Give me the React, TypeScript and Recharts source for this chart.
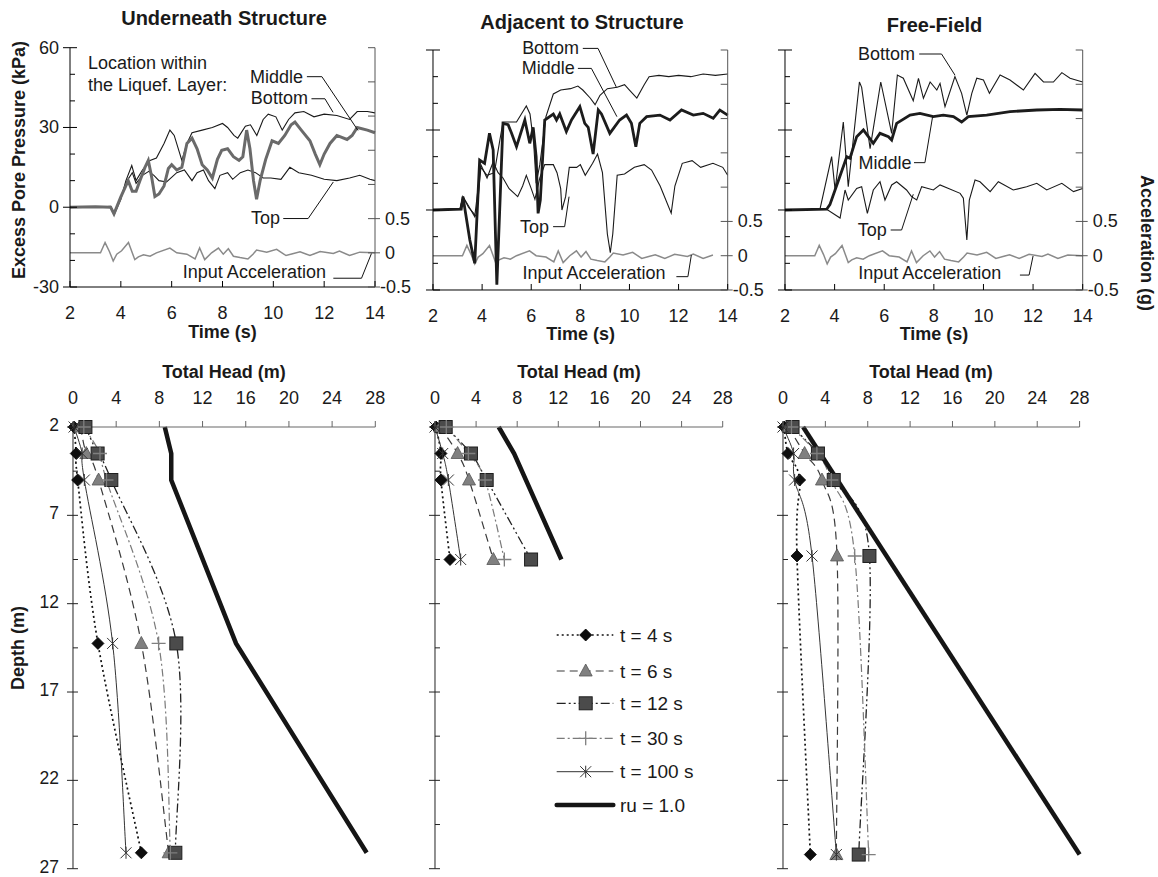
import React from 'react';
import { LineChart, Line, XAxis, YAxis, ReferenceLine, ReferenceDot } from 'recharts';

const FONT = "'Liberation Sans', Arial, Helvetica, sans-serif";
const INK = '#1a1a1a';

// ---------- Top row: excess pore pressure (kPa) vs time (s) ----------
const underBottom: number[][] = [[2,0],[2.5,0.3],[3,0],[3.6,0.3],[3.75,-2.5],[4.0,3],[4.2,10],[4.43,15.7],[4.6,10],[4.85,14],[5.15,17.6],[5.4,18.5],[5.7,24],[5.93,29],[6.1,27],[6.4,17.6],[6.6,24],[6.8,28],[7.2,29],[7.6,30],[8.0,31.5],[8.2,30],[8.45,27],[8.6,26],[8.9,30.5],[9.1,31],[9.35,27],[9.6,33],[9.8,35],[10.1,34],[10.35,29],[10.6,33],[10.85,35.5],[11.2,36],[11.6,34],[12.0,35],[12.5,34.5],[13.0,33],[13.3,36],[13.7,36],[14,35.5]];
const underMiddle: number[][] = [[2,0],[3.0,0.2],[3.6,0],[3.73,-2.5],[4.0,3.9],[4.29,10],[4.45,6],[4.6,6],[4.75,10],[4.95,15],[5.08,17.6],[5.2,12],[5.34,4],[5.5,5],[5.7,8],[5.87,14.6],[6.0,16],[6.2,14],[6.4,15],[6.6,24],[6.8,26],[7.0,22],[7.2,16],[7.4,14],[7.6,11],[7.8,18],[7.97,21.4],[8.2,22],[8.43,19],[8.65,17.6],[8.8,19],[8.95,29],[9.08,22],[9.22,10],[9.34,3],[9.48,10],[9.7,18],[9.95,25],[10.2,24],[10.45,27],[10.7,31],[10.85,32],[11.1,29],[11.44,25],[11.65,20],[11.83,16],[12.0,20],[12.23,24],[12.5,27],[12.9,25.5],[13.1,27],[13.3,30],[13.7,29],[14,28]];
const underTop: number[][] = [[2,0],[3.0,0.2],[3.6,0],[3.75,-2],[4.0,4],[4.25,10],[4.45,13],[4.6,9],[4.85,12],[5.1,13.5],[5.3,12],[5.5,10],[5.8,9.5],[6.2,13],[6.5,14],[6.8,10],[7.0,13],[7.25,14],[7.45,10],[7.7,7],[7.9,12],[8.2,13],[8.4,10.5],[8.7,13],[9.0,14],[9.3,13],[9.6,11],[9.9,11],[10.3,10.5],[10.65,15],[11.0,13],[11.5,12],[12.0,10.5],[12.5,10],[13.0,11],[13.4,12],[13.8,10.5],[14,10]];

const adjBottom: number[][] = [[2,0],[3.1,0.5],[3.22,5],[3.45,1],[3.77,-2.5],[3.95,16],[4.2,13],[4.5,14],[4.7,25],[4.85,33],[5.1,33],[5.4,33],[5.6,36],[5.8,39],[5.95,36],[6.1,25],[6.2,10],[6.35,17],[6.6,35],[6.9,43.5],[7.2,45],[7.6,45.5],[7.9,46.5],[8.1,45],[8.4,42],[8.6,39.5],[8.8,43],[9.1,45.5],[9.5,46],[9.8,47],[10.0,45],[10.3,42],[10.6,47],[10.8,50],[11.2,50.5],[11.6,50],[12.0,50.5],[12.5,50],[13.0,51],[13.5,50.5],[14,51]];
const adjMiddle: number[][] = [[2,0],[3.15,0.3],[3.22,5],[3.5,-11.25],[3.7,-20],[3.9,18.75],[4.1,17.5],[4.3,28.75],[4.45,22.5],[4.6,-28],[4.85,32.5],[5.06,32],[5.2,28.75],[5.4,23.75],[5.74,33.75],[5.94,25],[6.08,31],[6.2,20],[6.28,-1.25],[6.37,3.75],[6.55,33.75],[6.9,36],[7.03,33.75],[7.16,36],[7.43,29.4],[7.64,33.75],[7.98,38.75],[8.18,32.5],[8.32,31],[8.52,21],[8.73,37.5],[8.86,36],[9.2,28.75],[9.6,33.75],[9.88,35.6],[10.08,32.5],[10.26,23.75],[10.42,32.5],[10.7,35],[11.24,35.6],[11.65,33.75],[12.12,37.5],[12.6,35.6],[13.0,36.25],[13.41,34.4],[13.68,37.5],[14,35.6]];
const adjTop: number[][] = [[2,0],[3.1,0.5],[3.22,5],[3.45,1.5],[3.7,-2.5],[3.95,17],[4.2,12],[4.45,18],[4.65,14],[4.85,12],[5.1,8],[5.45,5],[5.65,9],[5.8,13],[6.0,8],[6.15,4],[6.35,12],[6.55,17],[6.9,17],[7.05,14],[7.2,8],[7.25,0],[7.4,5],[7.55,16],[7.85,16],[8.0,17],[8.2,13],[8.5,17.5],[8.7,21],[8.9,14],[9.1,-9],[9.22,-16],[9.32,-9],[9.5,13],[9.8,13.5],[10.2,16],[10.6,17],[10.9,15],[11.25,9],[11.7,-1.2],[11.85,9],[12.15,17.5],[12.55,18.5],[12.9,16],[13.4,17.5],[13.8,16],[14,13]];

const freeBottom: number[][] = [[2,0],[3.41,0.3],[3.88,20],[4.02,7.5],[4.35,33],[4.55,8.75],[5.0,48],[5.09,46],[5.43,23],[5.86,48],[6.3,28.75],[6.53,50.6],[6.77,49.4],[7.17,41],[7.38,49.4],[7.58,41.9],[7.85,48],[8.12,45],[8.25,47.5],[8.45,38.75],[8.85,50],[9.12,43.75],[9.33,35.6],[9.53,43.75],[9.73,49.4],[10.0,48.75],[10.24,43.75],[10.67,50.6],[11.07,48.75],[11.61,45],[12.08,51.25],[12.42,48],[12.82,48],[13.16,51.5],[13.49,49.4],[14,48]];
const freeMiddle: number[][] = [[2,0],[3.68,0.3],[3.81,2],[4.15,11],[4.49,20],[4.62,19.4],[4.89,27.5],[5.16,30],[5.36,27.5],[5.56,25],[5.83,28.75],[6.17,27.5],[6.3,26.25],[6.5,32.5],[7.04,35.6],[7.44,36.25],[7.98,35],[8.38,35.6],[8.79,35],[9.12,33],[9.39,35],[10.13,35.6],[11.07,36.9],[12.15,37.5],[13.09,37.75],[14,37.5]];
const freeTop: number[][] = [[2,0],[3.68,0.3],[4.22,-3],[4.42,7.5],[4.55,3.75],[4.89,8.1],[5.09,8.75],[5.32,-1.25],[5.56,7.5],[5.83,10.6],[6.03,3.75],[6.3,9.4],[6.5,10.6],[6.9,7.5],[7.1,5],[7.31,3.75],[7.51,8.75],[7.98,7.5],[8.25,9.4],[9.06,6.25],[9.19,4.4],[9.33,-11.25],[9.43,3.75],[9.66,11.25],[9.86,10.6],[10.27,6.9],[10.6,10.6],[11.2,7.5],[11.74,8.75],[12.15,10],[12.55,7.5],[13.16,10],[13.63,6.9],[14,8.1]];

// input acceleration (g)
const inputAcc: number[][] = [[2,0],[3.2,0],[3.38,0.15],[3.55,0.02],[3.7,-0.12],[3.84,-0.02],[4.03,0.03],[4.3,0.15],[4.55,-0.1],[4.69,-0.06],[4.89,-0.03],[5.15,-0.05],[5.4,0],[5.93,0.07],[6.2,0],[6.6,-0.02],[6.92,-0.09],[7.1,0.07],[7.3,-0.1],[7.57,0],[7.84,0.07],[8.03,-0.02],[8.23,0.06],[8.43,-0.05],[8.69,-0.07],[9.0,-0.09],[9.2,-0.02],[9.34,0.04],[9.74,0.01],[10.13,0.05],[10.5,-0.04],[11.05,0.015],[11.44,-0.04],[11.84,0.02],[12.36,-0.01],[12.6,0.025],[13.0,-0.04],[13.4,0.01],[14,0]];

const timeTicks = [2, 4, 6, 8, 10, 12, 14];
const kpaTicks = [-30, -20, -10, 0, 10, 20, 30, 40, 50, 60];
const kpaLabels = [-30, 0, 30, 60];
const accTicks = [-0.5, 0, 0.5, 1, 1.5, 2, 2.5, 3];
const accLabels = [-0.5, 0, 0.5];

// ---------- Bottom row: total head (m) vs depth (m) ----------
const headTicks = [0, 4, 8, 12, 16, 20, 24, 28];
const depthTicks = [2, 4.5, 7, 9.5, 12, 14.5, 17, 19.5, 22, 24.5, 27];
const depthLabels = [2, 7, 12, 17, 22, 27];

const underDepths = [2, 3.5, 5, 14.25, 26.1];
const underT4 = [0.1, 0.3, 0.43, 2.31, 6.33];
const underT6 = [0.7, 1.23, 2.37, 6.33, 8.86];
const underT12 = [1.15, 2.28, 3.55, 9.57, 9.48];
const underT30 = [1.0, 2.5, 3.1, 7.93, 9.02];
const underT100 = [0.1, 0.85, 1.05, 3.67, 4.91];
const underRuDepths = [2, 3.5, 5, 14.25, 26.1];
const underRuHead = [8.5, 9.1, 9.1, 15.1, 27.2];

const adjDepths = [2, 3.5, 5, 9.5];
const adjT4 = [0.1, 0.58, 0.58, 1.46];
const adjT6 = [0.5, 2.2, 3.31, 5.68];
const adjT12 = [1.04, 3.5, 5.03, 9.35];
const adjT30 = [1.1, 3.25, 4.87, 6.75];
const adjT100 = [0.0, 0.75, 1.3, 2.5];
const adjRuDepths = [2, 3.5, 9.5];
const adjRuHead = [6.2, 7.7, 12.3];

const freeDepths = [2, 3.5, 5, 9.3, 26.2];
const freeT4 = [0.1, 0.47, 1.57, 1.32, 2.58];
const freeT6 = [0.5, 2.04, 3.68, 5.1, 5.04];
const freeT12 = [0.9, 3.3, 4.79, 8.16, 7.15];
const freeT30 = [0.8, 3.2, 4.56, 6.77, 8.09];
const freeT100 = [0.0, 1.0, 1.1, 2.74, 5.04];
const freeRuDepths = [2, 26.2];
const freeRuHead = [1.9, 28.0];

const legendLabels = ['t = 4 s', 't = 6 s', 't = 12 s', 't = 30 s', 't = 100 s', 'ru = 1.0'];

// ---------- annotations (data coordinates) ----------
type Note = { x: number; y: number; text: string; anchor: 'start' | 'end'; path?: number[][] };
const underNotes: Note[] = [
  { x: 2.71, y: 54.4, text: 'Location within', anchor: 'start' },
  { x: 2.71, y: 46.1, text: 'the Liquef. Layer:', anchor: 'start' },
  { x: 11.17, y: 49.1, text: 'Middle', anchor: 'end', path: [[11.32, 49.1], [11.91, 49.1], [13.33, 28.9]] },
  { x: 11.36, y: 40.9, text: 'Bottom', anchor: 'end', path: [[11.5, 40.8], [12.03, 40.8], [12.35, 35.7]] },
  { x: 10.26, y: -4.2, text: 'Top', anchor: 'end', path: [[10.39, -4.25], [11.37, -4.25], [12.36, 9.5]] },
  { x: 12.07, y: -24.25, text: 'Input Acceleration', anchor: 'end', path: [[12.36, -26.7], [13.47, -26.7], [13.86, -17.4]] },
];
const adjNotes: Note[] = [
  { x: 7.95, y: 60.6, text: 'Bottom', anchor: 'end', path: [[8.1, 60.6], [8.72, 60.6], [9.47, 46]] },
  { x: 7.77, y: 53.1, text: 'Middle', anchor: 'end', path: [[7.9, 53.1], [8.45, 53.1], [9.49, 35]] },
  { x: 6.72, y: -6.25, text: 'Top', anchor: 'end', path: [[6.89, -6.25], [7.36, -6.25], [7.54, 5]] },
  { x: 11.47, y: -23.5, text: 'Input Acceleration', anchor: 'end', path: [[11.91, -25], [12.38, -25], [12.52, -16.9]] },
];
const freeNotes: Note[] = [
  { x: 7.24, y: 58.5, text: 'Bottom', anchor: 'end', path: [[7.41, 58.5], [8.31, 58.5], [8.85, 50.6]] },
  { x: 7.1, y: 17.75, text: 'Middle', anchor: 'end', path: [[7.2, 17.75], [7.64, 17.75], [7.95, 35]] },
  { x: 6.1, y: -7.5, text: 'Top', anchor: 'end', path: [[6.26, -7.5], [6.7, -7.5], [7.17, 5.9]] },
  { x: 10.72, y: -23.5, text: 'Input Acceleration', anchor: 'end', path: [[11.47, -24.4], [11.84, -24.4], [12.0, -17.25]] },
];

// ---------- helpers ----------
const tv = (arr: number[][], maxT = 99) => arr.filter((p) => p[0] <= maxT).map(([t, v]) => ({ t, v }));
const prof = (depths: number[], heads: number[]) => depths.map((d, i) => ({ h: heads[i], d }));

const smoothCurve: any = (context: any) => {
  let pts: number[][] = [];
  return {
    areaStart() {},
    areaEnd() {},
    lineStart() { pts = []; },
    point(x: number, y: number) { pts.push([+x, +y]); },
    lineEnd() {
      const n = pts.length;
      if (!n) return;
      context.moveTo(pts[0][0], pts[0][1]);
      for (let i = 0; i < n - 1; i++) {
        const p0 = pts[i - 1] || pts[i];
        const p1 = pts[i];
        const p2 = pts[i + 1];
        const p3 = pts[i + 2] || pts[i + 1];
        context.bezierCurveTo(
          p1[0] + (p2[0] - p0[0]) / 6, p1[1] + (p2[1] - p0[1]) / 6,
          p2[0] - (p3[0] - p1[0]) / 6, p2[1] - (p3[1] - p1[1]) / 6,
          p2[0], p2[1]
        );
      }
    },
  };
};

type Side = 'left' | 'right' | 'bottom' | 'top';
interface TickStyle {
  side: Side; labels: number[]; majors: number[];
  majIn: number; majOut: number; minIn: number; minOut: number;
  gap: number; negGap?: number; color: string; fontSize?: number; dy?: number;
}
const has = (arr: number[], v: number) => arr.some((a) => Math.abs(a - v) < 1e-6);

function makeTick(s: TickStyle) {
  return (props: any) => {
    const { x, y, payload, index } = props;
    const v = Number(payload.value);
    const maj = has(s.majors, v);
    const iL = maj ? s.majIn : s.minIn;
    const oL = maj ? s.majOut : s.minOut;
    let l = { x1: x, x2: x, y1: y, y2: y };
    let tx = x, ty = y + (s.dy || 0);
    let anchor: 'start' | 'middle' | 'end' = 'middle';
    if (s.side === 'left') { l = { x1: x - oL, x2: x + iL, y1: y, y2: y }; tx = x - s.gap; anchor = 'end'; }
    else if (s.side === 'right') { l = { x1: x - iL, x2: x + oL, y1: y, y2: y }; tx = x + (v < 0 && s.negGap != null ? s.negGap : s.gap); anchor = 'start'; }
    else if (s.side === 'bottom') { l = { x1: x, x2: x, y1: y - iL, y2: y + oL }; ty = y + s.gap; }
    else { l = { x1: x, x2: x, y1: y - oL, y2: y + iL }; ty = y - s.gap; }
    return (
      <g key={`tk-${index}`}>
        {(iL > 0 || oL > 0) && <line {...l} stroke={s.color} strokeWidth={1} />}
        {has(s.labels, v) && (
          <text x={tx} y={ty} textAnchor={anchor} dominantBaseline="central" fontFamily={FONT} fontSize={s.fontSize || 18} fill={INK}>
            {String(v)}
          </text>
        )}
      </g>
    );
  };
}

function renderNotes(notes: Note[]) {
  const out: any[] = [];
  notes.forEach((n, i) => {
    out.push(
      <ReferenceDot
        key={`nd-${i}`} xAxisId="x" yAxisId="p" x={n.x} y={n.y} r={0} ifOverflow="visible"
        fill="none" stroke="none"
        label={(p: any) => {
          const vb = p.viewBox || {};
          const cx = (vb.x || 0) + (vb.width || 0) / 2;
          const cy = (vb.y || 0) + (vb.height || 0) / 2;
          return (
            <text x={cx} y={cy} textAnchor={n.anchor} dominantBaseline="central" fontFamily={FONT} fontSize={18} fill={INK}>
              {n.text}
            </text>
          );
        }}
      />
    );
    if (n.path) {
      for (let k = 0; k < n.path.length - 1; k++) {
        out.push(
          <ReferenceLine
            key={`nl-${i}-${k}`} xAxisId="x" yAxisId="p" ifOverflow="visible"
            segment={[{ x: n.path[k][0], y: n.path[k][1] }, { x: n.path[k + 1][0], y: n.path[k + 1][1] }]}
            stroke="#111" strokeWidth={1}
          />
        );
      }
    }
  });
  return out;
}

// ---------- tick renderers ----------
const timeTick = makeTick({ side: 'bottom', labels: timeTicks, majors: timeTicks, majIn: 6, majOut: 0, minIn: 6, minOut: 0, gap: 26, color: '#000' });
const kpaTickL = makeTick({ side: 'left', labels: kpaLabels, majors: kpaLabels, majIn: 7, majOut: 7, minIn: 5, minOut: 0, gap: 11, color: '#000' });
const kpaTickN = makeTick({ side: 'left', labels: [], majors: kpaLabels, majIn: 7, majOut: 7, minIn: 5, minOut: 0, gap: 11, color: '#000' });
const accTick = makeTick({ side: 'right', labels: accLabels, majors: accLabels, majIn: 7, majOut: 5, minIn: 7, minOut: 0, gap: 10, negGap: 5, color: '#555' });
const headTick = makeTick({ side: 'top', labels: headTicks, majors: headTicks, majIn: 0, majOut: 6, minIn: 0, minOut: 6, gap: 29, color: '#666' });
const depthTickL = makeTick({ side: 'left', labels: depthLabels, majors: depthLabels, majIn: 5, majOut: 6, minIn: 5, minOut: 0, gap: 14, color: '#222', dy: -2, fontSize: 17.5 });
const depthTickN = makeTick({ side: 'left', labels: [], majors: depthLabels, majIn: 5, majOut: 6, minIn: 5, minOut: 0, gap: 14, color: '#222' });

// ---------- top panel ----------
const TOP_H = 345;
interface TopProps {
  plotLeft: number; plotW: number; plotTop: number; plotBottom: number;
  bottom: number[][]; middle: number[][]; top: number[][];
  middleColor: string; middleWidth: number; accEnd: number;
  leftLabels: boolean; notes: Note[];
}
function TopPanel(p: TopProps) {
  return (
    <div style={{ position: 'absolute', left: p.plotLeft - 60, top: 0 }}>
      <LineChart width={p.plotW + 120} height={TOP_H} margin={{ top: p.plotTop, right: 20, bottom: TOP_H - p.plotBottom - 30, left: 20 }}>
        <XAxis xAxisId="x" type="number" dataKey="t" domain={[2, 14]} ticks={timeTicks} interval={0} height={30}
          tickLine={false} tickSize={0} tickMargin={0} tick={timeTick} axisLine={{ stroke: '#000', strokeWidth: 1 }} />
        <YAxis yAxisId="p" type="number" domain={[-30, 60]} ticks={kpaTicks} interval={0} width={40}
          tickLine={false} tickSize={0} tickMargin={0} tick={p.leftLabels ? kpaTickL : kpaTickN} axisLine={{ stroke: '#000', strokeWidth: 1 }} />
        <YAxis yAxisId="a" orientation="right" type="number" domain={[-0.5, 3]} ticks={accTicks} interval={0} width={40}
          tickLine={false} tickSize={0} tickMargin={0} tick={accTick} axisLine={{ stroke: '#555', strokeWidth: 1 }} />
        <Line xAxisId="x" yAxisId="a" data={tv(inputAcc, p.accEnd)} dataKey="v" type="linear" stroke="#8a8a8a" strokeWidth={1.5} dot={false} activeDot={false} isAnimationActive={false} />
        <Line xAxisId="x" yAxisId="p" data={tv(p.top)} dataKey="v" type="linear" stroke={INK} strokeWidth={1.1} dot={false} activeDot={false} isAnimationActive={false} />
        <Line xAxisId="x" yAxisId="p" data={tv(p.bottom)} dataKey="v" type="linear" stroke={INK} strokeWidth={1.1} dot={false} activeDot={false} isAnimationActive={false} />
        <Line xAxisId="x" yAxisId="p" data={tv(p.middle)} dataKey="v" type="linear" stroke={p.middleColor} strokeWidth={p.middleWidth} dot={false} activeDot={false} isAnimationActive={false} />
        {renderNotes(p.notes)}
      </LineChart>
    </div>
  );
}

// ---------- profile panel ----------
const BOT_TOP = 340;
const BOT_H = 537;
const PLOT_Y0 = 427;
const PLOT_Y1 = 868.7;

type MarkerKind = 'diamond' | 'triangle' | 'square' | 'plus' | 'star';
function marker(kind: MarkerKind, cx: number, cy: number, key: string) {
  switch (kind) {
    case 'diamond':
      return <path key={key} d={`M${cx},${cy - 6}L${cx + 6},${cy}L${cx},${cy + 6}L${cx - 6},${cy}Z`} fill="#0d0d0d" stroke="#000" strokeWidth={0.8} />;
    case 'triangle':
      return <path key={key} d={`M${cx},${cy - 7}L${cx + 6.5},${cy + 5}L${cx - 6.5},${cy + 5}Z`} fill="#808080" stroke="#555" strokeWidth={0.8} />;
    case 'square':
      return <rect key={key} x={cx - 6.5} y={cy - 6.5} width={13} height={13} fill="#4b4b4b" stroke="#1f1f1f" strokeWidth={1} />;
    case 'plus':
      return <path key={key} d={`M${cx - 7},${cy}H${cx + 7}M${cx},${cy - 7}V${cy + 7}`} stroke="#7f7f7f" strokeWidth={1.3} fill="none" />;
    default:
      return <path key={key} d={`M${cx - 5.5},${cy - 5.5}L${cx + 5.5},${cy + 5.5}M${cx - 5.5},${cy + 5.5}L${cx + 5.5},${cy - 5.5}M${cx},${cy - 6}V${cy + 6}`} stroke="#333" strokeWidth={1} fill="none" />;
  }
}

const profileStyles: { stroke: string; width: number; dash?: string; marker: MarkerKind }[] = [
  { stroke: '#111', width: 1.7, dash: '2 3', marker: 'diamond' },
  { stroke: '#3a3a3a', width: 1.2, dash: '8 5', marker: 'triangle' },
  { stroke: '#222', width: 1.3, dash: '9 3 2 3 2 3', marker: 'square' },
  { stroke: '#7a7a7a', width: 1.2, dash: '8 3 2 3', marker: 'plus' },
  { stroke: '#333', width: 1, dash: undefined, marker: 'star' },
];

interface ProfProps {
  plotLeft: number; plotW: number; depths: number[]; sets: number[][];
  ruDepths: number[]; ruHead: number[]; depthLabels: boolean;
}
function ProfilePanel(p: ProfProps) {
  return (
    <div style={{ position: 'absolute', left: p.plotLeft - 60, top: BOT_TOP }}>
      <LineChart width={p.plotW + 120} height={BOT_H}
        margin={{ top: PLOT_Y0 - BOT_TOP - 30, right: 60, bottom: BOT_H - (PLOT_Y1 - BOT_TOP), left: 20 }}>
        <XAxis xAxisId="h" orientation="top" type="number" dataKey="h" domain={[0, 28]} ticks={headTicks} interval={0} height={30}
          tickLine={false} tickSize={0} tickMargin={0} tick={headTick} axisLine={{ stroke: '#666', strokeWidth: 1 }} />
        <YAxis yAxisId="d" type="number" domain={[2, 27]} reversed ticks={depthTicks} interval={0} width={40}
          tickLine={false} tickSize={0} tickMargin={0} tick={p.depthLabels ? depthTickL : depthTickN} axisLine={{ stroke: '#222', strokeWidth: 1 }} />
        {p.sets.map((heads, i) => {
          const st = profileStyles[i];
          return (
            <Line key={`s-${i}`} xAxisId="h" yAxisId="d" data={prof(p.depths, heads)} dataKey="d" type={smoothCurve}
              stroke={st.stroke} strokeWidth={st.width} strokeDasharray={st.dash}
              dot={(d: any) => marker(st.marker, d.cx, d.cy, `m-${i}-${d.index}`)}
              activeDot={false} isAnimationActive={false} />
          );
        })}
        <Line xAxisId="h" yAxisId="d" data={prof(p.ruDepths, p.ruHead)} dataKey="d" type="linear"
          stroke="#151515" strokeWidth={4.5} dot={false} activeDot={false} isAnimationActive={false} />
      </LineChart>
    </div>
  );
}

// ---------- legend ----------
function LegendBox() {
  const ys = [20, 56, 88.3, 123.3, 156.7, 190];
  return (
    <svg width={240} height={215} style={{ position: 'absolute', left: 540, top: 615 }}>
      {legendLabels.map((lab, i) => {
        const y = ys[i];
        const st = profileStyles[i];
        return (
          <g key={lab}>
            {st ? (
              <line x1={16.7} x2={73.3} y1={y} y2={y} stroke={st.stroke} strokeWidth={st.width} strokeDasharray={st.dash} />
            ) : (
              <line x1={16.7} x2={73.3} y1={y} y2={y} stroke="#151515" strokeWidth={4.5} strokeLinecap="round" />
            )}
            {st && marker(st.marker, 45.7, y, `lg-${i}`)}
            <text x={80} y={y} dominantBaseline="central" fontFamily={FONT} fontSize={19} fill={INK}>{lab}</text>
          </g>
        );
      })}
    </svg>
  );
}

function Txt(props: { x: number; y: number; text: string; size?: number; bold?: boolean; rotate?: number }) {
  return (
    <div style={{
      position: 'absolute', left: props.x, top: props.y, transform: `translate(-50%, -50%) rotate(${props.rotate || 0}deg)`,
      whiteSpace: 'nowrap', fontFamily: FONT, fontSize: props.size || 18, fontWeight: props.bold ? 700 : 400, color: INK, lineHeight: 1,
    }}>
      {props.text}
    </div>
  );
}

export default function App() {
  return (
    <div style={{ position: 'absolute', left: 0, top: 0, width: 1158, height: 877, background: '#fff', overflow: 'hidden' }}>
      <TopPanel plotLeft={70} plotW={305} plotTop={47.7} plotBottom={287} bottom={underBottom} middle={underMiddle} top={underTop}
        middleColor="#6a6a6a" middleWidth={3} accEnd={14} leftLabels notes={underNotes} />
      <TopPanel plotLeft={433.3} plotW={294.7} plotTop={50} plotBottom={290} bottom={adjBottom} middle={adjMiddle} top={adjTop}
        middleColor="#1c1c1c" middleWidth={2.8} accEnd={13.4} leftLabels={false} notes={adjNotes} />
      <TopPanel plotLeft={785} plotW={297.7} plotTop={50} plotBottom={290} bottom={freeBottom} middle={freeMiddle} top={freeTop}
        middleColor="#1c1c1c" middleWidth={2.8} accEnd={14} leftLabels={false} notes={freeNotes} />

      <ProfilePanel plotLeft={72.7} plotW={302.3} depths={underDepths} sets={[underT4, underT6, underT12, underT30, underT100]}
        ruDepths={underRuDepths} ruHead={underRuHead} depthLabels />
      <ProfilePanel plotLeft={435} plotW={287.7} depths={adjDepths} sets={[adjT4, adjT6, adjT12, adjT30, adjT100]}
        ruDepths={adjRuDepths} ruHead={adjRuHead} depthLabels={false} />
      <ProfilePanel plotLeft={782.7} plotW={296.6} depths={freeDepths} sets={[freeT4, freeT6, freeT12, freeT30, freeT100]}
        ruDepths={freeRuDepths} ruHead={freeRuHead} depthLabels={false} />

      <LegendBox />

      <Txt x={224} y={18} text="Underneath Structure" size={20} bold />
      <Txt x={582} y={22} text="Adjacent to Structure" size={20} bold />
      <Txt x={934.5} y={25} text="Free-Field" size={20} bold />
      <Txt x={19} y={160} text="Excess Pore Pressure (kPa)" size={18} bold rotate={-90} />
      <Txt x={1147} y={243} text="Acceleration (g)" size={18} bold rotate={90} />
      <Txt x={222.5} y={332} text="Time (s)" size={18} bold />
      <Txt x={580.7} y={334} text="Time (s)" size={18} bold />
      <Txt x={934} y={334} text="Time (s)" size={18} bold />
      <Txt x={224} y={372} text="Total Head (m)" size={18} bold />
      <Txt x={579} y={372} text="Total Head (m)" size={18} bold />
      <Txt x={931} y={372} text="Total Head (m)" size={18} bold />
      <Txt x={18} y={648} text="Depth (m)" size={18} bold rotate={-90} />
    </div>
  );
}
